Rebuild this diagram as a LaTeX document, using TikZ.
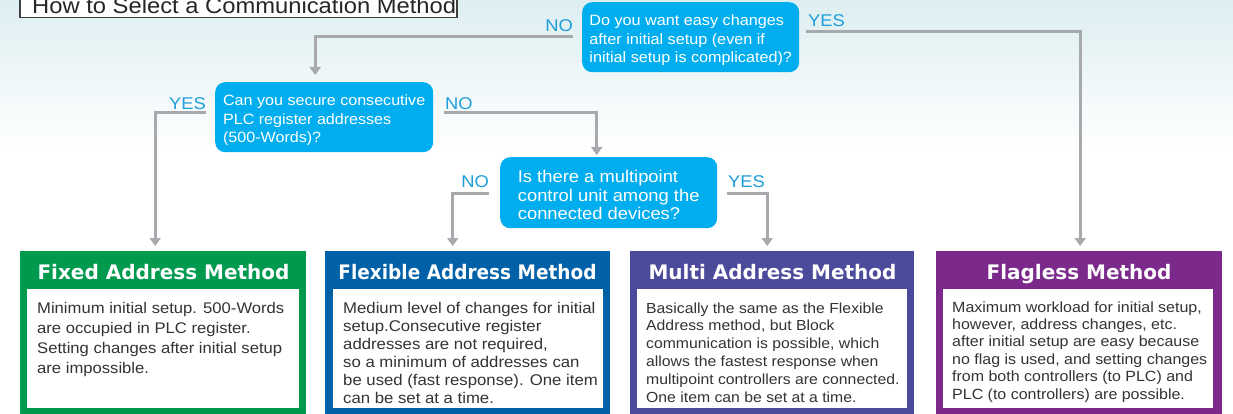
\documentclass[tikz,border=0pt]{standalone}
\usepackage{fontspec}
\setmainfont{Liberation Sans}[FakeStretch=1.08]
\newfontfamily\hdfont{DejaVu Sans}
\usetikzlibrary{arrows.meta,calc}
\definecolor{bgtop}{HTML}{DDEEF1}
\definecolor{qcyan}{HTML}{00AEEF}
\definecolor{lblue}{HTML}{1E9FDA}
\definecolor{agray}{HTML}{A7A9AC}
\definecolor{mgreen}{HTML}{009A4E}
\definecolor{mblue}{HTML}{0061A9}
\definecolor{mviolet}{HTML}{4C4A9A}
\definecolor{mpurple}{HTML}{7B2A8B}
\definecolor{btext}{HTML}{333333}
\newcommand{\qstrut}{\rule{0pt}{17pt}}
\begin{document}
\begin{tikzpicture}[x=1pt,y=-1pt,
  question/.style={rounded corners=10pt, fill=qcyan, text=white, align=left,
    font=\fontsize{15}{18.5}\selectfont, inner sep=0pt, anchor=north west},
  lbl/.style={text=lblue, font=\fontsize{17}{17}\selectfont, inner sep=0pt},
  arr/.style={draw=agray, line width=3pt, -{Triangle[width=11pt,length=8pt]}},
  method/.style={inner sep=0pt, anchor=north west, minimum height=163},
  innerbox/.style={fill=white, inner sep=0pt, anchor=north west, minimum width=270, minimum height=119},
  head/.style={text=white, font=\hdfont\bfseries\fontsize{20}{20}\selectfont, anchor=base, inner sep=0pt},
  body/.style={text=btext, align=left, anchor=base west, inner sep=0pt}
]
\useasboundingbox (0,0) rectangle (1233,414);
% background
\fill[white] (0,0) rectangle (1233,414);
\shade[top color=bgtop, bottom color=white] (0,0) rectangle (1233,150);

% title
\draw[draw=black!75, fill=white, line width=1.2pt] (20,-5) rectangle (457,17.5);
\node[anchor=base west, inner sep=0pt, font=\fontsize{22}{22}\selectfont, text=black!85] (title) at (32,14) {How to Select a Communication Method};

% questions
\node[question, minimum width=217, minimum height=70] (d1) at (582,2)
  {\qstrut Do you want easy changes\\after initial setup (even if\\initial setup is complicated)?};
\node[question, minimum width=218, minimum height=70, font=\fontsize{14.9}{18.5}\selectfont] (d2) at (215,82)
  {\qstrut Can you secure consecutive\\PLC register addresses\\(500-Words)?};
\node[question, minimum width=217, minimum height=71, font=\fontsize{17}{18.2}\selectfont] (d3) at (500,157)
  {\qstrut Is there a multipoint\\control unit among the\\connected devices?};

% methods
\node[method, fill=mgreen, minimum width=286] (m1) at (20,251) {};
\node[method, fill=mblue, minimum width=285] (m2) at (325,251) {};
\node[method, fill=mviolet, minimum width=284] (m3) at (630,251) {};
\node[method, fill=mpurple, minimum width=286] (m4) at (936,251) {};
\node[innerbox, minimum width=272] (b1) at (27,289) {};
\node[innerbox] (b2) at (333,289) {};
\node[innerbox] (b3) at (637,289) {};
\node[innerbox] (b4) at (943,289) {};

\node[head] (h1) at (163.5,279) {Fixed Address Method};
\node[head] (h2) at (467.5,279) {\scalebox{0.925}[1]{Flexible Address Method}};
\node[head] (h3) at (772.5,279) {Multi Address Method};
\node[head] (h4) at (1079,279) {Flagless Method};

% body texts (base anchor = baseline of the last line)
\node[body, font=\fontsize{15.4}{20}\selectfont] (t1) at (37,373)
  {Minimum initial setup. 500-Words\\are occupied in PLC register.\\Setting changes after initial setup\\are impossible.};
\node[body, font=\fontsize{15.5}{18}\selectfont] (t2) at (343,403)
  {Medium level of changes for initial\\setup.Consecutive register\\addresses are not required,\\so a minimum of addresses can\\be used (fast response). One item\\can be set at a time.};
\node[body, font=\fontsize{14.6}{17.8}\selectfont] (t3) at (646,402)
  {Basically the same as the Flexible\\Address method, but Block\\communication is possible, which\\allows the fastest response when\\multipoint controllers are connected.\\One item can be set at a time.};
\node[body, font=\fontsize{14.8}{17.4}\selectfont] (t4) at (952,399)
  {Maximum workload for initial setup,\\however, address changes, etc.\\after initial setup are easy because\\no flag is used, and setting changes\\from both controllers (to PLC) and\\PLC (to controllers) are possible.};

% labels
\node[lbl, anchor=base east] (l1) at (573,32) {NO};
\node[lbl, anchor=base west] (l2) at (808,27) {YES};
\node[lbl, anchor=base east] (l3) at (206,110) {YES};
\node[lbl, anchor=base west] (l4) at (445,110) {NO};
\node[lbl, anchor=base east] (l5) at (489,188) {NO};
\node[lbl, anchor=base west] (l6) at (728,188) {YES};

% connector starts
\coordinate (c1) at (573,37);
\coordinate (c2) at (806,32);
\coordinate (c3) at (206,113);
\coordinate (c4) at (444,113);
\coordinate (c5) at (489,193);
\coordinate (c6) at (727,193);

\draw[arr] (c1) -| ($(d2.north)+(-9,-7)$);
\draw[arr] (c2) -| ($(m4.north)+(1,-5)$);
\draw[arr] (c3) -| ($(m1.north)+(-8,-5)$);
\draw[arr] (c4) -| ($(d3.north)+(-12,-2)$);
\draw[arr] (c5) -| ($(m2.north)+(-15,-5)$);
\draw[arr] (c6) -| ($(m3.north)+(-5,-5)$);
\end{tikzpicture}
\end{document}
